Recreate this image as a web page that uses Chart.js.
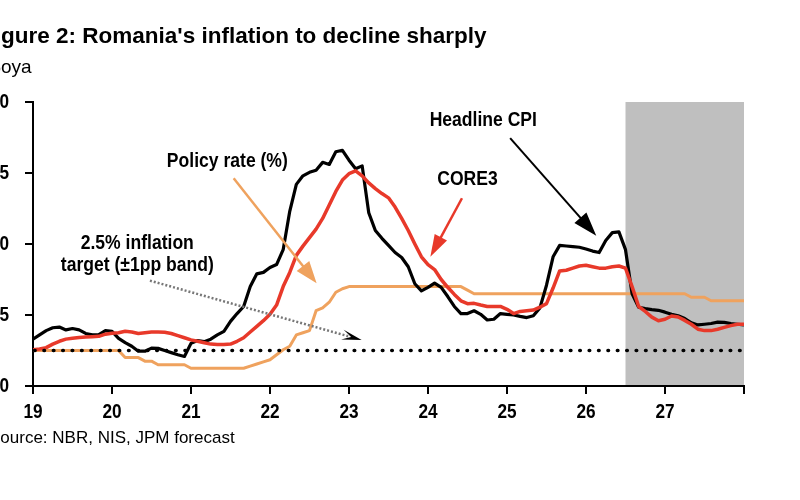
<!DOCTYPE html>
<html>
<head>
<meta charset="utf-8">
<script src="https://cdn.jsdelivr.net/npm/chart.js@4.4.1/dist/chart.umd.min.js"></script>
<style>
  html, body { margin: 0; padding: 0; background: #fff; overflow: hidden; }
  #wrap { position: absolute; left: -24px; top: 0; width: 824px; height: 500px; }
</style>
</head>
<body>
<div id="wrap"><canvas id="myChart" width="824" height="500"></canvas></div>
<script>
// monthly, Jan 2019 onwards, %oya
const startYear = 19;
const cpi = [
  3.3, 3.6, 3.9, 4.1, 4.15, 3.95, 4.05, 3.95, 3.7, 3.6, 3.62, 3.9,
  3.85, 3.35, 3.05, 2.8, 2.45, 2.45, 2.67, 2.65, 2.5, 2.35, 2.2, 2.08,
  3.0, 3.2, 3.12, 3.3, 3.6, 3.85, 4.55, 5.1, 5.6, 7.0, 7.9, 8.0,
  8.35, 8.55, 9.6, 12.3, 14.2, 14.8, 15.05, 15.2, 15.75, 15.6, 16.5, 16.6,
  15.9, 15.3, 15.5, 12.2, 10.95, 10.4, 9.9, 9.4, 9.05, 8.4, 7.2, 6.7,
  6.95, 7.25, 6.95, 6.3, 5.6, 5.1, 5.1, 5.3, 5.05, 4.65, 4.7, 5.1,
  5.05, 5.0, 4.9, 4.82, 4.95, 5.5, 7.1, 9.1, 9.9, 9.86, 9.82, 9.77,
  9.65, 9.5, 9.4, 10.25, 10.8, 10.85, 9.6, 6.5, 5.55, 5.45, 5.38, 5.33,
  5.2, 5.05, 4.95, 4.75, 4.45, 4.3, 4.35, 4.4, 4.5, 4.48, 4.4, 4.35, 4.3
];
const core3 = [
  2.55, 2.6, 2.7, 2.95, 3.15, 3.3, 3.37, 3.42, 3.45, 3.47, 3.5, 3.65,
  3.72, 3.75, 3.85, 3.8, 3.7, 3.75, 3.8, 3.8, 3.78, 3.7, 3.55, 3.4,
  3.25, 3.15, 3.05, 2.95, 2.93, 2.93, 2.95, 3.15, 3.4, 3.8, 4.2, 4.6,
  5.05, 5.7, 7.0, 8.0, 9.2, 9.85, 10.45, 11.05, 11.8, 12.75, 13.7, 14.5,
  14.95, 15.15, 14.8, 14.3, 13.9, 13.55, 13.25, 12.6, 11.8, 10.95, 10.0, 9.1,
  8.55, 8.2, 7.5, 6.95, 6.45, 6.0, 5.8, 5.82, 5.7, 5.6, 5.6, 5.6,
  5.4, 5.1, 5.25, 5.3, 5.35, 5.55, 5.8, 6.9, 8.1, 8.15, 8.3, 8.45,
  8.5, 8.4, 8.3, 8.3, 8.4, 8.45, 8.3, 7.0, 5.6, 5.25, 4.85, 4.6,
  4.7, 4.93, 4.86, 4.62, 4.35, 4.0, 3.9, 3.9, 4.0, 4.13, 4.25, 4.35, 4.35
];
const policyRate = [
  2.5, 2.5, 2.5, 2.5, 2.5, 2.5, 2.5, 2.5, 2.5, 2.5, 2.5, 2.5,
  2.5, 2.5, 2.0, 2.0, 2.0, 1.75, 1.75, 1.5, 1.5, 1.5, 1.5, 1.5,
  1.25, 1.25, 1.25, 1.25, 1.25, 1.25, 1.25, 1.25, 1.25, 1.4, 1.55, 1.7,
  1.85, 2.2, 2.55, 2.8, 3.6, 3.75, 3.9, 5.3, 5.5, 5.9, 6.6, 6.85,
  7.0, 7.0, 7.0, 7.0, 7.0, 7.0, 7.0, 7.0, 7.0, 7.0, 7.0, 7.0,
  7.0, 7.0, 7.0, 7.0, 7.0, 7.0, 6.75, 6.5, 6.5, 6.5, 6.5, 6.5,
  6.5, 6.5, 6.5, 6.5, 6.5, 6.5, 6.5, 6.5, 6.5, 6.5, 6.5, 6.5,
  6.5, 6.5, 6.5, 6.5, 6.5, 6.5, 6.5, 6.5, 6.5, 6.5, 6.5, 6.5,
  6.5, 6.5, 6.5, 6.5, 6.25, 6.25, 6.25, 6.0, 6.0, 6.0, 6.0, 6.0, 6.0
];
const inflationTarget = 2.5;
const xTicks = [19, 20, 21, 22, 23, 24, 25, 26, 27, 28];
const xLabels = ['19', '20', '21', '22', '23', '24', '25', '26', '27', ''];
const yTicks = [0, 5, 10, 15, 20];
const yLabels = ['0', '5', '10', '15', '20'];
const forecastFrom = 26.5;

const toPoints = arr => arr.map((v, i) => ({ x: startYear + i / 12, y: v }));

const FONT = '"Liberation Sans", Arial, sans-serif';
const OFF = 24; // canvas sits 24px left of the page edge

// annotation labels and arrows, in data units
const notes = [
  { text: 'Headline CPI', x: 24.70, y: 18.7 },
  { text: 'CORE3', x: 24.50, y: 14.5 },
  { text: 'Policy rate (%)', x: 21.46, y: 15.8 },
  { text: '2.5% inflation', x: 20.32, y: 10.0 },
  { text: 'target (\u00b11pp band)', x: 20.32, y: 8.45 }
];
const arrows = [
  { from: [25.04, 17.46], to: [26.13, 10.58], color: '#000', width: 2, head: 24, half: 8 },
  { from: [24.43, 13.22], to: [24.03, 9.11], color: '#E8392A', width: 2.5, head: 22, half: 7 },
  { from: [21.54, 14.63], to: [22.59, 7.23], color: '#EFA25E', width: 2.5, head: 22, half: 8 },
  { from: [20.48, 7.42], to: [23.16, 3.24], color: '#777', width: 2.5, dash: [2, 2], head: 20, half: 5, notch: 0.55, headColor: '#000' }
];

// narrow text: draw a bigger font squeezed sideways
function narrowText(ctx, text, x, y, size, sx, align) {
  ctx.save();
  ctx.font = 'bold ' + size + 'px ' + FONT;
  ctx.textAlign = align;
  ctx.textBaseline = 'middle';
  ctx.translate(x, y);
  ctx.scale(sx, 1);
  ctx.fillText(text, 0, 0);
  ctx.restore();
}

function drawArrow(ctx, x1, y1, x2, y2, o) {
  const a = Math.atan2(y2 - y1, x2 - x1);
  ctx.save();
  ctx.strokeStyle = o.color;
  ctx.lineWidth = o.width;
  if (o.dash) ctx.setLineDash(o.dash);
  ctx.beginPath();
  ctx.moveTo(x1, y1);
  ctx.lineTo(x2 - Math.cos(a) * o.head * 0.7, y2 - Math.sin(a) * o.head * 0.7);
  ctx.stroke();
  ctx.setLineDash([]);
  ctx.fillStyle = o.headColor || o.color;
  ctx.translate(x2, y2);
  ctx.rotate(a);
  ctx.beginPath();
  ctx.moveTo(0, 0);
  ctx.lineTo(-o.head, -o.half);
  ctx.lineTo(-o.head * (o.notch || 1), 0);
  ctx.lineTo(-o.head, o.half);
  ctx.closePath();
  ctx.fill();
  ctx.restore();
}

const decor = {
  id: 'decor',
  beforeDraw(chart) {
    const { ctx, chartArea: ca, scales: { x } } = chart;
    ctx.save();
    ctx.fillStyle = '#BFBFBF';
    const x0 = x.getPixelForValue(forecastFrom);
    ctx.fillRect(x0, ca.top, ca.right - x0, ca.bottom - ca.top);
    ctx.restore();
  },
  afterDraw(chart) {
    const { ctx, chartArea: ca, scales: { x, y } } = chart;
    ctx.save();
    ctx.fillStyle = '#000';
    ctx.textBaseline = 'alphabetic';
    ctx.textAlign = 'left';
    ctx.font = 'bold 22.5px ' + FONT;
    ctx.fillText("Figure 2: Romania's inflation to decline sharply", OFF - 19, 43);
    ctx.font = '19px ' + FONT;
    ctx.fillText('%oya', OFF - 16, 73);
    ctx.font = '17px ' + FONT;
    ctx.fillText('Source: NBR, NIS, JPM forecast', OFF - 11, 443);

    // tick labels
    xTicks.forEach((v, i) => narrowText(ctx, xLabels[i], x.getPixelForValue(v), ca.bottom + 26, 21, 0.82, 'center'));
    yTicks.forEach((v, i) => narrowText(ctx, yLabels[i], ca.left - 24, y.getPixelForValue(v), 21, 0.82, 'right'));

    notes.forEach(n => narrowText(ctx, n.text, x.getPixelForValue(n.x), y.getPixelForValue(n.y), 19.5, 0.9, 'center'));
    ctx.restore();

    arrows.forEach(a => drawArrow(ctx,
      x.getPixelForValue(a.from[0]), y.getPixelForValue(a.from[1]),
      x.getPixelForValue(a.to[0]), y.getPixelForValue(a.to[1]), a));
  }
};

const ctx = document.getElementById('myChart').getContext('2d');

new Chart(ctx, {
  type: 'line',
  data: {
    datasets: [
      {
        label: '2.5% inflation target',
        data: [{ x: 19.02, y: inflationTarget }, { x: 28, y: inflationTarget }],
        borderColor: '#000',
        borderWidth: 3.6,
        borderDash: [0.5, 8.9],
        borderCapStyle: 'round',
        pointRadius: 0,
        order: 0
      },
      {
        label: 'CORE3',
        data: toPoints(core3),
        borderColor: '#E8392A',
        borderWidth: 3.5,
        pointRadius: 0,
        order: 1
      },
      {
        label: 'Headline CPI',
        data: toPoints(cpi),
        borderColor: '#000',
        borderWidth: 3.2,
        pointRadius: 0,
        order: 2
      },
      {
        label: 'Policy rate (%)',
        data: toPoints(policyRate),
        borderColor: '#EFA25E',
        borderWidth: 3,
        pointRadius: 0,
        order: 3
      }
    ]
  },
  options: {
    responsive: false,
    animation: false,
    layout: { padding: { left: 0, right: 56, top: 102, bottom: 0 } },
    plugins: { legend: { display: false }, tooltip: { enabled: false } },
    elements: { line: { tension: 0, borderJoinStyle: 'round' } },
    scales: {
      x: {
        type: 'linear',
        min: 19,
        max: 28,
        afterBuildTicks: axis => { axis.ticks = xTicks.map(v => ({ value: v })); },
        afterFit: axis => { axis.height = 114; },
        grid: { drawOnChartArea: false, drawTicks: true, tickLength: 8, color: '#000', lineWidth: 2 },
        border: { display: true, color: '#000', width: 2 },
        ticks: { display: false }
      },
      y: {
        min: 0,
        max: 20,
        afterBuildTicks: axis => { axis.ticks = yTicks.map(v => ({ value: v })); },
        afterFit: axis => { axis.width = 57; },
        grid: { drawOnChartArea: false, drawTicks: true, tickLength: 8, color: '#000', lineWidth: 2 },
        border: { display: true, color: '#000', width: 2 },
        ticks: { display: false }
      }
    }
  },
  plugins: [decor]
});
</script>
</body>
</html>
